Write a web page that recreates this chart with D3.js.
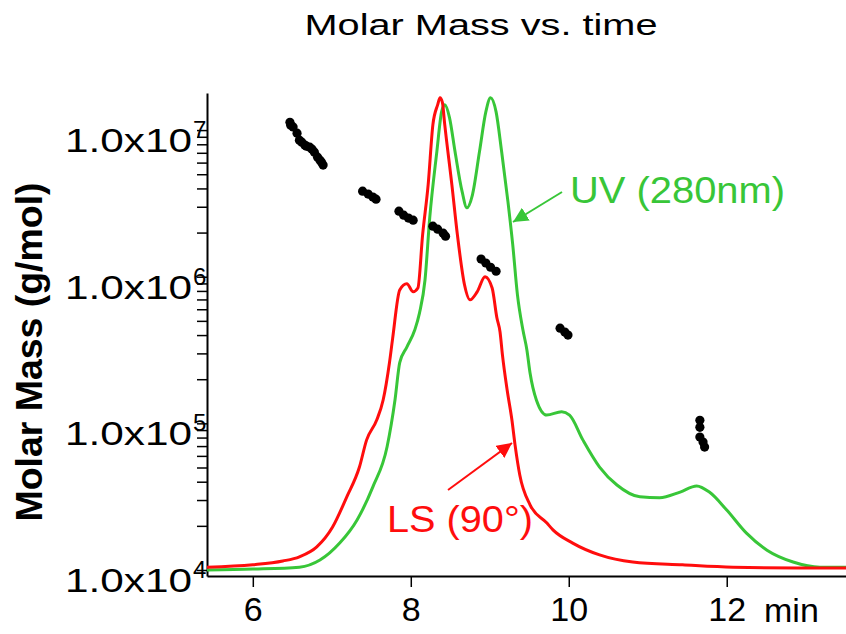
<!DOCTYPE html>
<html lang="en">
<head>
    <meta charset="UTF-8">
    <title>Molar Mass vs. time</title>
    <style>
        body, html {
            margin: 0;
            padding: 0;
            width: 100%;
            height: 100%;
            overflow: hidden;
            background-color: #fff;
            font-family: Arial, "Liberation Sans", sans-serif;
        }

        #chart {
            width: 846px;
            height: 634px;
        }

        .axis path, .axis line {
            stroke: #000;
        }
    </style>
</head>
<body>

<div id="chart"></div>

<script src="https://d3js.org/d3.v7.min.js"></script>
<script>
    // LS (90 deg) detector trace, relative signal vs time (min)
    const lsTime = [5.42, 6.00, 6.38, 6.59, 6.81, 7.01, 7.19, 7.35, 7.44, 7.57, 7.65, 7.73, 7.77, 7.86, 7.95,
        8.03, 8.09, 8.15, 8.22, 8.28, 8.34, 8.37, 8.40, 8.43, 8.52, 8.59, 8.68, 8.75, 8.84, 8.94, 9.03,
        9.09, 9.13, 9.16, 9.22, 9.28, 9.32, 9.38, 9.51, 9.72, 9.80, 10.05, 10.39, 10.81, 11.44, 12.08, 13.34, 13.51];
    const lsSignal = [0.6, 1.1, 1.9, 2.8, 4.9, 9.1, 15.5, 21.8, 27.5, 31.8, 36.0, 43.9, 49.0, 59.3, 60.6,
        58.9, 59.7, 71.0, 81.6, 94.3, 98.5, 100, 99.0, 94.3, 81.6, 71.0, 60.4, 57.2, 58.9, 62.1, 59.7,
        53.4, 50.4, 45.6, 38.1, 31.8, 26.5, 20.1, 13.8, 10.0, 8.5, 5.7, 3.2, 1.7, 1.1, 0.6, 0.4, 0.4];

    // UV (280 nm) detector trace
    const uvTime = [5.42, 6.00, 6.59, 6.85, 7.10, 7.32, 7.52, 7.70, 7.80, 7.86, 7.95, 8.05, 8.11, 8.18, 8.24,
        8.33, 8.39, 8.43, 8.49, 8.56, 8.65, 8.71, 8.78, 8.87, 8.95, 9.01, 9.08, 9.15, 9.23, 9.29, 9.35,
        9.42, 9.47, 9.51, 9.59, 9.72, 9.91, 10.01, 10.18, 10.39, 10.61, 10.90, 11.15, 11.41, 11.62, 11.78,
        12.00, 12.25, 12.51, 12.84, 13.18, 13.51];
    const uvSignal = [0, 0.2, 0.6, 2.1, 5.7, 10.6, 17.6, 26.1, 36.0, 43.9, 47.2, 50.8, 54.4, 61.4, 74.6,
        88.6, 97.0, 98.5, 95.8, 88.6, 80.1, 76.7, 79.4, 88.6, 97.0, 100, 97.0, 88.6, 78.0, 69.0, 58.3,
        50.8, 46.6, 41.7, 36.0, 32.8, 33.5, 32.8, 27.5, 21.8, 18.0, 15.5, 15.3, 16.5, 17.8, 16.5,
        12.7, 7.8, 4.2, 1.7, 0.6, 0.6];

    // molar mass points (g/mol)
    const mmTime = [6.47, 6.48, 6.51, 6.56, 6.59, 6.62, 6.66, 6.68, 6.72, 6.75, 6.78, 6.82, 6.85, 6.87, 6.89,
        7.39, 7.46, 7.52, 7.56,
        7.85, 7.91, 7.97, 8.03,
        8.28, 8.34, 8.41, 8.44,
        8.89, 8.95, 9.01, 9.08,
        9.89, 9.95, 9.99,
        11.66, 11.66, 11.66, 11.70, 11.72];
    const mmMass = [1.13e7, 1.08e7, 1.05e7, 9.53e6, 8.53e6, 8.27e6, 7.89e6, 7.77e6, 7.64e6, 7.41e6, 7.07e6, 6.53e6, 6.23e6, 6.04e6, 5.77e6,
        3.83e6, 3.66e6, 3.49e6, 3.38e6,
        2.80e6, 2.63e6, 2.51e6, 2.43e6,
        2.21e6, 2.11e6, 1.98e6, 1.89e6,
        1.32e6, 1.24e6, 1.16e6, 1.09e6,
        4.46e5, 4.19e5, 4.00e5,
        1.05e5, 9.4e4, 8.07e4, 7.46e4, 6.89e4];

    const xTicks = [6, 8, 10, 12];
    const yExponents = [4, 5, 6, 7];

    const width = 846, height = 634;
    const red = "#ff0d0d", green = "#38c638";

    const svg = d3.select("#chart")
        .append("svg")
        .attr("width", width)
        .attr("height", height);

    const x = d3.scaleLinear().domain([5.42, 13.51]).range([207, 846]);
    const y = d3.scaleLog().domain([9.1e3, 1.79e7]).range([576, 93]);
    // detector signal shares the plot height (hidden linear scale)
    const ySig = d3.scaleLinear().domain([0, 101]).range([y(1e4), y(1.79e7)]);

    // title
    svg.append("text")
        .attr("x", 481)
        .attr("y", 35)
        .attr("text-anchor", "middle")
        .attr("font-size", 30)
        .attr("textLength", 353)
        .attr("lengthAdjust", "spacingAndGlyphs")
        .text("Molar Mass vs. time");

    // y axis with minor ticks
    const yTickVals = [];
    yExponents.forEach(e => {
        const k = e < 7 ? 9 : 1;
        for (let i = 1; i <= k; i++) yTickVals.push(i * Math.pow(10, e));
    });

    svg.append("g")
        .attr("class", "axis")
        .attr("transform", "translate(207,0)")
        .call(d3.axisLeft(y).tickValues(yTickVals).tickSize(10).tickSizeOuter(0).tickFormat(""))
        .call(g => g.select(".domain").attr("stroke-width", 2))
        .call(g => g.selectAll(".tick line").attr("stroke-width", 1.5));

    const yLab = svg.append("g")
        .selectAll("g")
        .data(yExponents)
        .enter().append("g")
        .attr("transform", d => `translate(0,${y(Math.pow(10, d))})`);

    yLab.append("text")
        .attr("x", 192)
        .attr("y", 22)
        .attr("text-anchor", "end")
        .attr("font-size", 34)
        .attr("textLength", 127)
        .attr("lengthAdjust", "spacingAndGlyphs")
        .text("1.0x10");

    yLab.append("text")
        .attr("x", 193)
        .attr("y", 8)
        .attr("font-size", 24)
        .text(d => d);

    // x axis
    svg.append("g")
        .attr("class", "axis")
        .attr("transform", "translate(0,576)")
        .call(d3.axisBottom(x).tickValues(xTicks).tickSize(11).tickSizeOuter(0).tickPadding(10))
        .call(g => g.select(".domain").attr("stroke-width", 2))
        .call(g => g.selectAll(".tick line").attr("stroke-width", 1.5))
        .call(g => g.selectAll(".tick text")
            .attr("font-size", 34)
            .attr("font-family", "Arial, 'Liberation Sans', sans-serif")
            .attr("fill", "#000"));

    svg.append("text")
        .attr("x", 764)
        .attr("y", 622)
        .attr("font-size", 34)
        .text("min");

    // y axis title
    svg.append("text")
        .attr("transform", "translate(42,352) rotate(-90)")
        .attr("text-anchor", "middle")
        .attr("font-size", 36)
        .attr("font-weight", "bold")
        .attr("textLength", 339)
        .attr("lengthAdjust", "spacingAndGlyphs")
        .text("Molar Mass (g/mol)");

    // traces
    const line = d3.line()
        .x(d => x(d[0]))
        .y(d => ySig(d[1]))
        .curve(d3.curveMonotoneX);

    svg.append("path")
        .datum(uvTime.map((t, i) => [t, uvSignal[i]]))
        .attr("fill", "none")
        .attr("stroke", green)
        .attr("stroke-width", 3)
        .attr("d", line);

    svg.append("path")
        .datum(lsTime.map((t, i) => [t, lsSignal[i]]))
        .attr("fill", "none")
        .attr("stroke", red)
        .attr("stroke-width", 3)
        .attr("d", line);

    // molar mass points
    svg.append("g")
        .selectAll("circle")
        .data(mmTime.map((t, i) => [t, mmMass[i]]))
        .enter().append("circle")
        .attr("cx", d => x(d[0]))
        .attr("cy", d => y(d[1]))
        .attr("r", 4.6)
        .attr("fill", "#000");

    // annotations with arrows
    const defs = svg.append("defs");
    [["arrowGreen", green], ["arrowRed", red]].forEach(([id, c]) => {
        defs.append("marker")
            .attr("id", id)
            .attr("viewBox", "0 0 10 10")
            .attr("refX", 10)
            .attr("refY", 5)
            .attr("markerWidth", 7.5)
            .attr("markerHeight", 7.5)
            .attr("markerUnits", "strokeWidth")
            .attr("orient", "auto")
            .append("path")
            .attr("d", "M0,0L10,5L0,10z")
            .attr("fill", c);
    });

    svg.append("line")
        .attr("x1", 562).attr("y1", 192)
        .attr("x2", 513).attr("y2", 222)
        .attr("stroke", green)
        .attr("stroke-width", 2)
        .attr("marker-end", "url(#arrowGreen)");

    svg.append("text")
        .attr("x", 570)
        .attr("y", 203)
        .attr("font-size", 37)
        .attr("fill", green)
        .attr("textLength", 215)
        .attr("lengthAdjust", "spacingAndGlyphs")
        .text("UV (280nm)");

    svg.append("line")
        .attr("x1", 448).attr("y1", 490)
        .attr("x2", 512).attr("y2", 443)
        .attr("stroke", red)
        .attr("stroke-width", 2)
        .attr("marker-end", "url(#arrowRed)");

    svg.append("text")
        .attr("x", 387)
        .attr("y", 532)
        .attr("font-size", 37)
        .attr("fill", red)
        .attr("textLength", 146)
        .attr("lengthAdjust", "spacingAndGlyphs")
        .text("LS (90°)");
</script>

</body>
</html>
